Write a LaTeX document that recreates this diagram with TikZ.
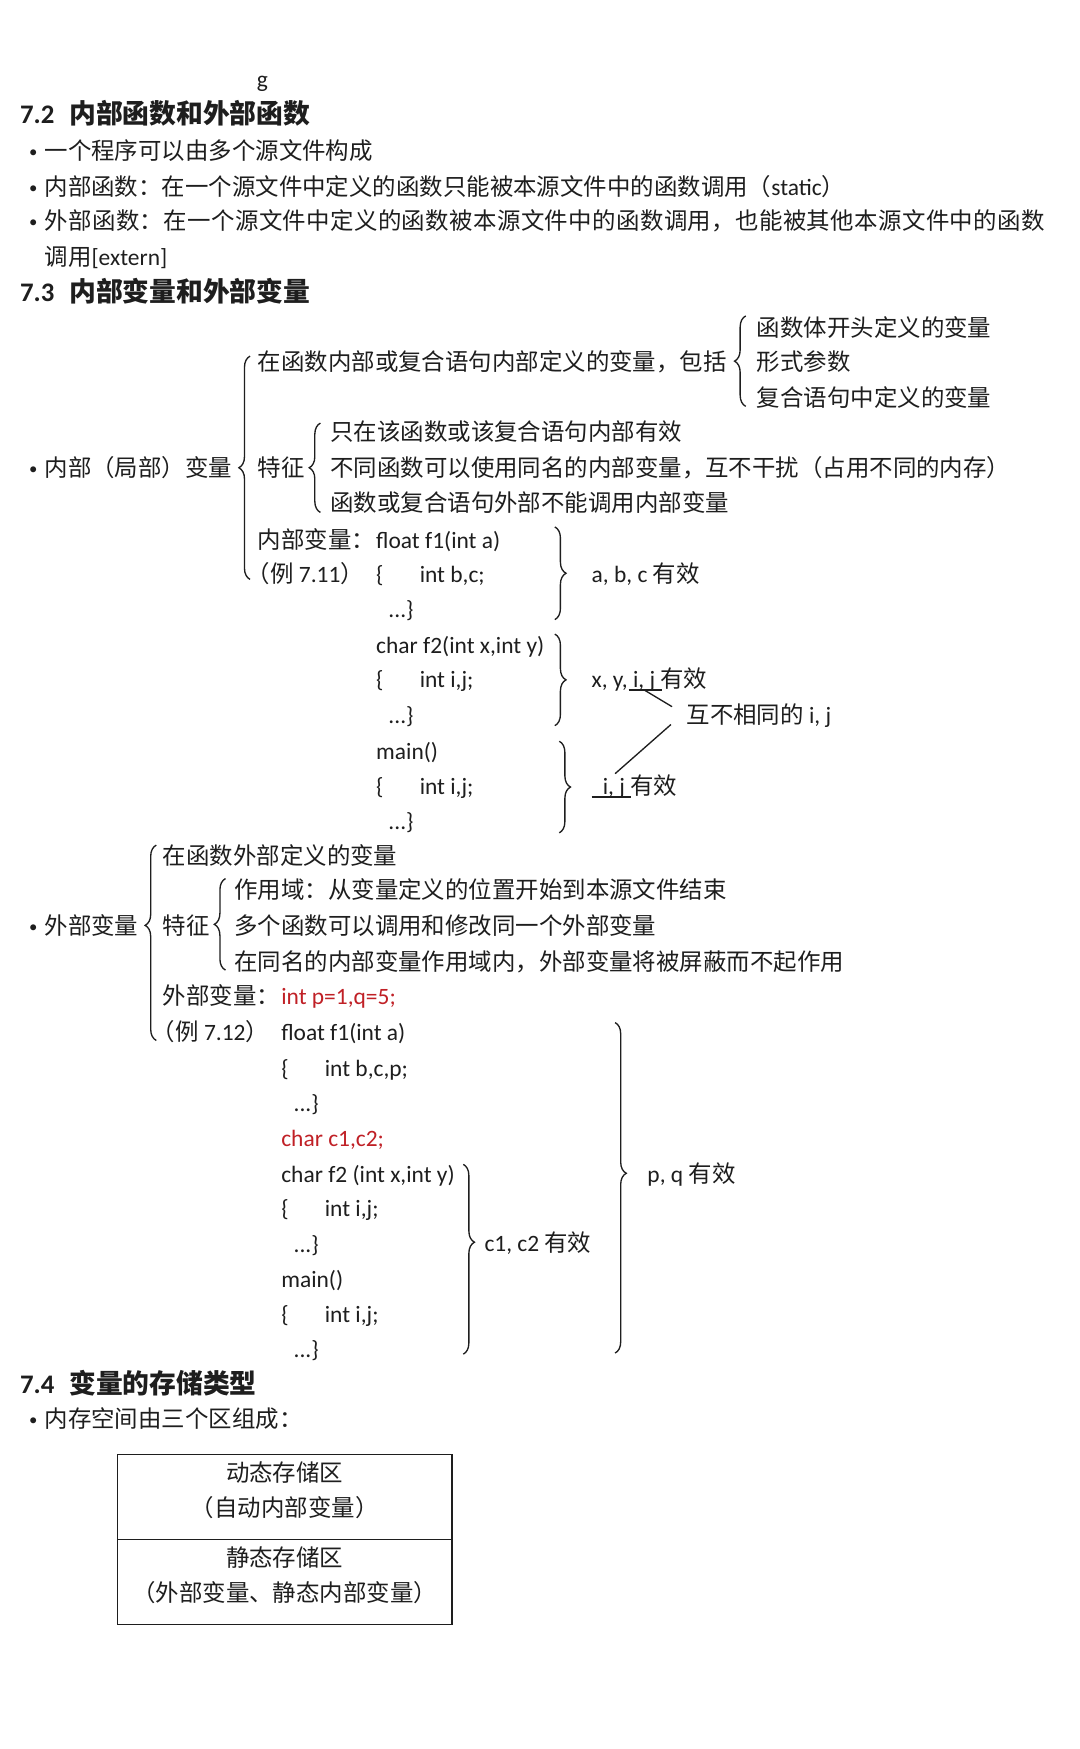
\documentclass[tikz,border=0pt]{standalone}
\usepackage{fontspec}
\setmainfont{Carlito}
\newfontfamily\cjk{Noto Sans CJK SC}
\usetikzlibrary{decorations.pathreplacing}
\definecolor{ink}{RGB}{30,30,30}
\definecolor{redc}{RGB}{192,32,38}
\newcommand\zh[1]{{\cjk #1}}
\newdimen\spreadamt
\spreadamt=0.34pt
\def\spreadloop#1{\ifx#1\relax\else#1\hskip\spreadamt\expandafter\spreadloop\fi}
\begin{document}
\begin{tikzpicture}[x=1pt,y=-1pt,
  tx/.style={anchor=base west, inner sep=0pt, outer sep=0pt, text=ink, font=\fontsize{21}{25}\selectfont},
  rtx/.style={tx, text=redc},
  bul/.style={anchor=base west, inner sep=0pt, outer sep=0pt, text=ink, font=\fontsize{15}{18}\selectfont},
  hd/.style={anchor=base west, inner sep=0pt, outer sep=0pt, text=ink, font=\fontsize{24}{28}\selectfont\bfseries},
  ctr/.style={anchor=base, inner sep=0pt, outer sep=0pt, text=ink, font=\fontsize{21}{25}\selectfont},
  brc/.style={draw=ink, line width=1.2pt, decorate, decoration={brace, amplitude=10pt, aspect=#1}},
  brc/.default=0.5,
  ln/.style={draw=ink, line width=1.2pt},
  boxst/.style={draw=ink, line width=1.2pt, minimum width=300pt, minimum height=76pt, inner sep=0pt}]
\useasboundingbox (0,0) rectangle (967.2,1566.7);
\fill[white] (0,0) rectangle (967.2,1566.7);

\node[tx] (g) at (230,78) {g};

% 7.2
\node[hd] (h72n) at (18,111) {7.2};
\node[hd] (h72) at (62,111) {\zh{内部函数和外部函数}};
\node[bul] (b1) at (26,141) {\textbullet};
\node[tx] (t1) at (40,143) {\zh{一个程序可以由多个源文件构成}};
\node[bul] (b2) at (26,173) {\textbullet};
\node[tx] (t2) at (40,175) {\zh{内部函数：在一个源文件中定义的函数只能被本源文件中的函数调用（}static\zh{）}};
\node[bul] (b3) at (26,204) {\textbullet};
\node[tx] (t3) at (40,206) {\zh{\spreadloop 外部函数：在一个源文件中定义的函数被本源文件中的函数调用，也能被其他本源文件中的函数\relax}};
\node[tx] (t4) at (40,238) {\zh{调用}[extern]};

% 7.3
\node[hd] (h73n) at (18,270) {7.3};
\node[hd] (h73) at (62,270) {\zh{内部变量和外部变量}};

\node[tx] (r1) at (678,301) {\zh{函数体开头定义的变量}};
\node[tx] (r2) at (678,332) {\zh{形式参数}};
\node[tx] (r3) at (678,364) {\zh{复合语句中定义的变量}};
\node[tx] (inc) at (231,332) {\zh{在函数内部或复合语句内部定义的变量，包括}};

\node[bul] (b4) at (26,425) {\textbullet};
\node[tx] (nbvar) at (40,427) {\zh{内部（局部）变量}};
\node[tx] (tz1) at (231,427) {\zh{特征}};
\node[tx] (f1) at (296,395) {\zh{只在该函数或该复合语句内部有效}};
\node[tx] (f2) at (296,427) {\zh{不同函数可以使用同名的内部变量，互不干扰（占用不同的内存）}};
\node[tx] (f3) at (296,458) {\zh{函数或复合语句外部不能调用内部变量}};

\node[tx] (nbl) at (231,491) {\zh{内部变量：}};
\node[tx] (c11) at (337,491) {float f1(int a)};
\node[tx] (ex711) at (221,522) {\zh{（例} 7.11\zh{）}};
\node[tx] (c12a) at (337,522) {\{};
\node[tx] (c12b) at (376,522) {int b,c;};
\node[tx] (c13) at (348,553) {...\}};
\node[tx] (v1) at (530,522) {a, b, c \zh{有效}};

\node[tx] (c21) at (337,585) {char f2(int x,int y)};
\node[tx] (c22a) at (337,616) {\{};
\node[tx] (c22b) at (376,616) {int i,j;};
\node[tx] (c23) at (348,648) {...\}};
\node[tx] (v2) at (530,616) {x, y, i, j \zh{有效}};
\node[tx] (diff) at (615,648) {\zh{互不相同的} i, j};

\node[tx] (c31) at (337,680) {main()};
\node[tx] (c32a) at (337,712) {\{};
\node[tx] (c32b) at (376,712) {int i,j;};
\node[tx] (c33) at (348,743) {...\}};
\node[tx] (v3) at (540,712) {i, j \zh{有效}};

% braces inner part
\coordinate (bA1) at (224,519); \coordinate (bA2) at (224,319);
\draw[brc] (bA1) -- (bA2);
\coordinate (bB1) at (668,364); \coordinate (bB2) at (668,283);
\draw[brc] (bB1) -- (bB2);
\coordinate (bC1) at (287,459); \coordinate (bC2) at (287,379);
\draw[brc] (bC1) -- (bC2);
\coordinate (bD1) at (497,472); \coordinate (bD2) at (497,555);
\draw[brc] (bD1) -- (bD2);
\coordinate (bE1) at (497,568); \coordinate (bE2) at (497,650);
\draw[brc] (bE1) -- (bE2);
\coordinate (bF1) at (501,664); \coordinate (bF2) at (501,746);
\draw[brc] (bF1) -- (bF2);

% underlines and pointers
\coordinate (ua1) at (563,618); \coordinate (ua2) at (593,618);
\draw[ln] (ua1) -- (ua2);
\coordinate (da1) at (577,618); \coordinate (da2) at (602,633);
\draw[ln] (da1) -- (da2);
\coordinate (db1) at (601,649); \coordinate (db2) at (551,693);
\draw[ln] (db1) -- (db2);
\coordinate (ub1) at (530,714); \coordinate (ub2) at (565,714);
\draw[ln] (ub1) -- (ub2);

% external
\node[tx] (wbl1) at (146,774) {\zh{在函数外部定义的变量}};
\node[bul] (b5) at (26,835) {\textbullet};
\node[tx] (wbvar) at (40,837) {\zh{外部变量}};
\node[tx] (tz2) at (146,837) {\zh{特征}};
\node[tx] (g1) at (210,805) {\zh{作用域：从变量定义的位置开始到本源文件结束}};
\node[tx] (g2) at (210,837) {\zh{多个函数可以调用和修改同一个外部变量}};
\node[tx] (g3) at (210,869) {\zh{在同名的内部变量作用域内，外部变量将被屏蔽而不起作用}};
\node[tx] (wbl) at (146,900) {\zh{外部变量：}};
\node[rtx] (pq) at (252,900) {int p=1,q=5;};
\node[tx] (ex712) at (136,932) {\zh{（例} 7.12\zh{）}};
\node[tx] (d11) at (252,932) {float f1(int a)};
\node[tx] (d12a) at (252,964) {\{};
\node[tx] (d12b) at (291,964) {int b,c,p;};
\node[tx] (d13) at (263,996) {...\}};
\node[rtx] (cc) at (252,1027) {char c1,c2;};
\node[tx] (d21) at (252,1059) {char f2 (int x,int y)};
\node[tx] (d22a) at (252,1090) {\{};
\node[tx] (d22b) at (291,1090) {int i,j;};
\node[tx] (d23) at (263,1122) {...\}};
\node[tx] (d31) at (252,1153) {main()};
\node[tx] (d32a) at (252,1185) {\{};
\node[tx] (d32b) at (291,1185) {int i,j;};
\node[tx] (d33) at (263,1216) {...\}};
\node[tx] (vc) at (434,1121) {c1, c2 \zh{有效}};
\node[tx] (vp) at (580,1059) {p, q \zh{有效}};

\coordinate (bG1) at (140,932); \coordinate (bG2) at (140,757);
\draw[brc=0.589] (bG1) -- (bG2);
\coordinate (bH1) at (202,869); \coordinate (bH2) at (202,787);
\draw[brc] (bH1) -- (bH2);
\coordinate (bI1) at (415,1043); \coordinate (bI2) at (415,1213);
\draw[brc=0.41] (bI1) -- (bI2);
\coordinate (bJ1) at (551,916); \coordinate (bJ2) at (551,1212);
\draw[brc=0.456] (bJ1) -- (bJ2);

% 7.4
\node[hd] (h74n) at (18,1248) {7.4};
\node[hd] (h74) at (62,1248) {\zh{变量的存储类型}};
\node[bul] (b6) at (26,1277) {\textbullet};
\node[tx] (mem) at (40,1279) {\zh{内存空间由三个区组成：}};

\node[boxst] (box1) at (255,1341) {};
\node[boxst] (box2) at (255,1417) {};
\node[ctr] (s1) at (255,1327) {\zh{动态存储区}};
\node[ctr] (s2) at (255,1358) {\zh{（自动内部变量）}};
\node[ctr] (s3) at (255,1403) {\zh{静态存储区}};
\node[ctr] (s4) at (255,1435) {\zh{（外部变量、静态内部变量）}};
\end{tikzpicture}
\end{document}
